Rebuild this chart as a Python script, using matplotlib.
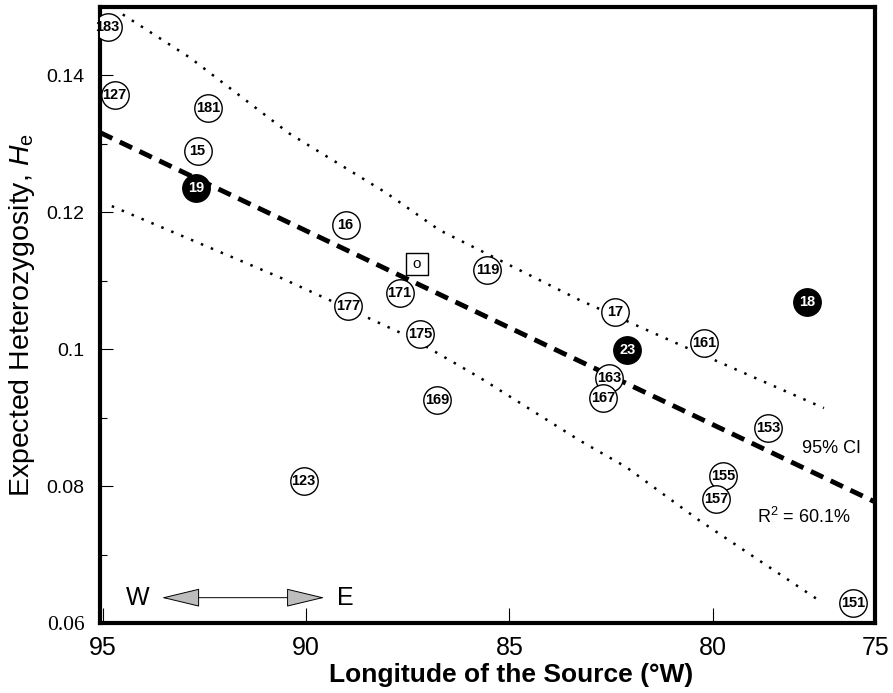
import numpy as np
import matplotlib
matplotlib.use('Agg')
import matplotlib.pyplot as plt

plt.rcParams['font.family'] = ['Liberation Sans', 'DejaVu Sans']
plt.rcParams['mathtext.fontset'] = 'custom'
plt.rcParams['mathtext.rm'] = 'Liberation Sans'
plt.rcParams['mathtext.it'] = 'Liberation Sans:italic'

# Sources: longitude (deg W), expected heterozygosity, label, filled?
lon = [94.88, 94.71, 92.42, 92.67, 92.71, 89.03, 85.54, 87.70, 88.96, 87.19,
       82.40, 77.68, 82.10, 80.21, 82.54, 82.69, 86.77, 78.64, 79.74, 79.91,
       90.06, 76.55]
he = [0.1470, 0.1371, 0.1353, 0.1290, 0.1235, 0.1181, 0.1115, 0.1082, 0.1063, 0.1022,
      0.1055, 0.1069, 0.0999, 0.1009, 0.0958, 0.0928, 0.0926, 0.0885, 0.0815, 0.0781,
      0.0807, 0.0629]
ids = ['183', '127', '181', '15', '19', '16', '119', '171', '177', '175',
       '17', '18', '23', '161', '163', '167', '169', '153', '155', '157',
       '123', '151']
filled = ['19', '18', '23']

# the "O" source (square)
o_lon, o_he = 87.28, 0.1124

# regression fit He = a + b * lon
fit_a, fit_b = -0.1374, 0.00283
fit_x = [95.07, 76.0]

# 95% CI curves
ci_up_x = [94.51, 92.86, 90.41, 88.02, 86.72, 83.28, 80.33, 77.26]
ci_up_y = [0.1489, 0.1426, 0.1315, 0.1228, 0.1174, 0.1072, 0.0994, 0.0914]
ci_lo_x = [94.78, 90.65, 89.25, 87.46, 85.74, 83.28, 82.13, 80.33, 77.33]
ci_lo_y = [0.1209, 0.1105, 0.1067, 0.1018, 0.0959, 0.0867, 0.0828, 0.0750, 0.0631]

xticks = [95, 90, 85, 80, 76.0]
xtick_labels = ['95', '90', '85', '80', '75']
yticks = [0.06, 0.08, 0.10, 0.12, 0.14]
ytick_labels = ['0.06', '0.08', '0.1', '0.12', '0.14']

fig = plt.figure(figsize=(8.93, 6.93), dpi=100)
ax = fig.add_axes([0.112, 0.101, 0.868, 0.889])
ax.set_xlim(95.07, 76.0)
ax.set_ylim(0.06, 0.15)

# fit line and CI
fx = np.array(fit_x)
ax.plot(fx, fit_a + fit_b * fx, color='black', lw=3.5, linestyle=(0, (2.8, 1.7)), zorder=2)
ax.plot(ci_up_x, ci_up_y, color='black', lw=1.8, linestyle=(0, (1, 3.3)), zorder=2)
ax.plot(ci_lo_x, ci_lo_y, color='black', lw=1.8, linestyle=(0, (1, 3.3)), zorder=2)

# points
for x, y, t in zip(lon, he, ids):
    isf = t in filled
    ax.scatter(x, y, s=390, facecolor='black' if isf else 'white',
               edgecolor='black', linewidth=1.0, zorder=3)
    ax.text(x, y, t, ha='center', va='center', fontsize=10.5, fontweight='bold',
            family=['Liberation Sans Narrow', 'Liberation Sans'],
            color='white' if isf else 'black', zorder=4)

ax.scatter(o_lon, o_he, s=250, marker='s', facecolor='white', edgecolor='black',
           linewidth=1.0, zorder=3)
ax.text(o_lon, o_he, 'o', ha='center', va='center', fontsize=11, zorder=4)

ax.text(77.80, 0.0855, '95% CI', fontsize=13, va='center', ha='left')
ax.text(78.91, 0.0755, r'R$^{2}$ = 60.1%', fontsize=13, va='center', ha='left')

# W <-> E arrow
ax.text(94.14, 0.0636, 'W', fontsize=18, ha='center', va='center')
ax.text(89.25, 0.0636, 'E', fontsize=18, ha='left', va='center')
ax.annotate('', xy=(93.55, 0.0637), xytext=(89.55, 0.0637),
            arrowprops=dict(arrowstyle='<|-|>,head_length=2.5,head_width=0.6',
                            fc='#bdbdbd', ec='black', lw=0.7,
                            shrinkA=0, shrinkB=0, mutation_scale=10))

ax.set_xticks(xticks, labels=xtick_labels)
ax.set_yticks(yticks, labels=ytick_labels)
ax.set_yticks([0.07, 0.09, 0.11, 0.13], minor=True)
ax.tick_params(axis='x', direction='in', length=11, width=0.8, labelsize=18, pad=9)
ax.tick_params(axis='y', direction='in', length=9, width=0.8, labelsize=14, pad=11)
ax.tick_params(axis='y', which='minor', direction='in', length=5, width=0.8)
lab0 = ax.get_yticklabels()[0]
lab0.set_family('Liberation Serif')
lab0.set_fontsize(15.5)

for sp in ax.spines.values():
    sp.set_linewidth(3)

ax.set_xlabel('Longitude of the Source (°W)', fontsize=19, fontweight='bold')
ax.xaxis.set_label_coords(0.53, -0.065)
ax.set_ylabel(r'Expected Heterozygosity, $\mathit{H}_{\mathrm{e}}$', fontsize=20.5, labelpad=7)

fig.savefig('out.png', dpi=100)
